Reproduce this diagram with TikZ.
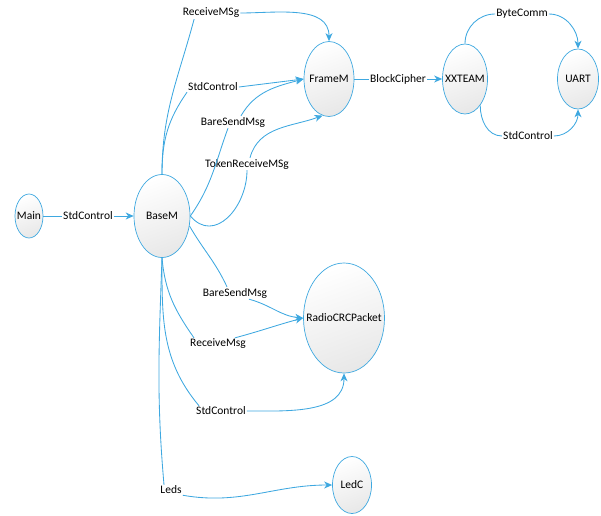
\documentclass[tikz,border=0pt]{standalone}
\usepackage{fontspec}
\setmainfont{Carlito}
\usetikzlibrary{arrows.meta,shapes.geometric}
\definecolor{linkblue}{RGB}{62,168,224}

\begin{document}
\begin{tikzpicture}[x=1pt,y=1pt,
  comp/.style={ellipse,draw=linkblue,line width=0.7pt,shading=axis,top color=white,bottom color=black!9,shading angle=20,
    inner sep=0pt,font=\fontsize{11.5}{13}\selectfont,
    execute at begin node={\hbox to 0pt\bgroup\hss},execute at end node={\hss\egroup}},
  lbl/.style={fill=white,inner sep=1pt,font=\fontsize{11.5}{13}\selectfont},
  link/.style={draw=linkblue,line width=0.85pt},
  arr/.style={link,-{Stealth[length=8pt,width=7pt,inset=2.5pt]}}]
  \useasboundingbox (0,0) rectangle (601,515);
  % components
  \node[comp,minimum width=28pt,minimum height=44pt] (Main) at (29,299) {Main};
  \node[comp,minimum width=56pt,minimum height=83pt] (BaseM) at (162,299) {BaseM};
  \node[comp,minimum width=50pt,minimum height=75pt] (FrameM) at (329,436) {FrameM};
  \node[comp,minimum width=45pt,minimum height=70pt] (XXTEAM) at (465,436) {XXTEAM};
  \node[comp,minimum width=41pt,minimum height=60pt] (UART) at (578,436) {UART};
  \node[comp,minimum width=81pt,minimum height=110pt] (RadioCRC) at (344,197) {RadioCRCPacket};
  \node[comp,minimum width=39pt,minimum height=57pt] (LedC) at (352,30) {LedC};
  % interface labels
  \node[lbl] (lMain) at (88,299) {StdControl};
  \node[lbl] (lRecvA) at (211,502) {ReceiveMSg};
  \node[lbl] (lStdA) at (213,428) {StdControl};
  \node[lbl] (lBareA) at (233,393) {BareSendMsg};
  \node[lbl] (lToken) at (247,351) {TokenReceiveMSg};
  \node[lbl] (lBlock) at (398,436) {BlockCipher};
  \node[lbl] (lByte) at (522,501) {ByteComm};
  \node[lbl] (lStdB) at (528,379) {StdControl};
  \node[lbl] (lBareB) at (235,222) {BareSendMsg};
  \node[lbl] (lRecvB) at (218,171) {ReceiveMsg};
  \node[lbl] (lStdC) at (221,104) {StdControl};
  \node[lbl] (lLeds) at (171,25) {Leds};
  % wiring
  \draw[link] (Main) -- (lMain);
  \draw[arr] (lMain) -- (BaseM);
  \draw[link] (BaseM.north) to[out=90,in=-105] (lRecvA.200);
  \draw[arr] (lRecvA.east) to[out=0,in=90] (FrameM.north);
  \draw[link] (BaseM.north) to[out=90,in=-125] (lStdA.south west);
  \draw[arr] (lStdA.east) -- (FrameM.west);
  \draw[link] (BaseM.east) to[out=55,in=-110] ([xshift=-5pt]lBareA.south);
  \draw[arr] ([xshift=8pt]lBareA.north) to[out=60,in=195] (FrameM.west);
  \draw[link] (BaseM.east) to[out=-50,in=-90,looseness=1.3] (lToken.south);
  \draw[arr] ([xshift=3pt]lToken.north) to[out=75,in=200] (FrameM.-100);
  \draw[link] (FrameM) -- (lBlock);
  \draw[arr] (lBlock) -- (XXTEAM);
  \draw[link] (XXTEAM.north) to[out=90,in=180] (lByte.west);
  \draw[arr] (lByte.east) to[out=0,in=90] (UART.north);
  \draw[link] (XXTEAM.-60) to[out=-90,in=180] (lStdB.west);
  \draw[arr] (lStdB.east) to[out=0,in=-90] (UART.south);
  \draw[link] (BaseM.-20) to[out=-60,in=115] ([xshift=-8pt]lBareB.north);
  \draw[arr] ([xshift=14pt]lBareB.south) to[out=-15,in=175] (RadioCRC.west);
  \draw[link] (BaseM.south) to[out=-85,in=125] ([xshift=-24pt]lRecvB.north);
  \draw[arr] (lRecvB.20) to[out=15,in=195] (RadioCRC.west);
  \draw[link] (BaseM.south) to[out=-90,in=130] ([xshift=-22pt]lStdC.north);
  \draw[arr] (lStdC.east) to[out=0,in=-90] (RadioCRC.south);
  \draw[link] (BaseM.south) to[out=-92,in=95] ([xshift=-7pt]lLeds.north);
  \draw[arr] (lLeds.south east) to[out=-10,in=180] (LedC.west);
\end{tikzpicture}
\end{document}
